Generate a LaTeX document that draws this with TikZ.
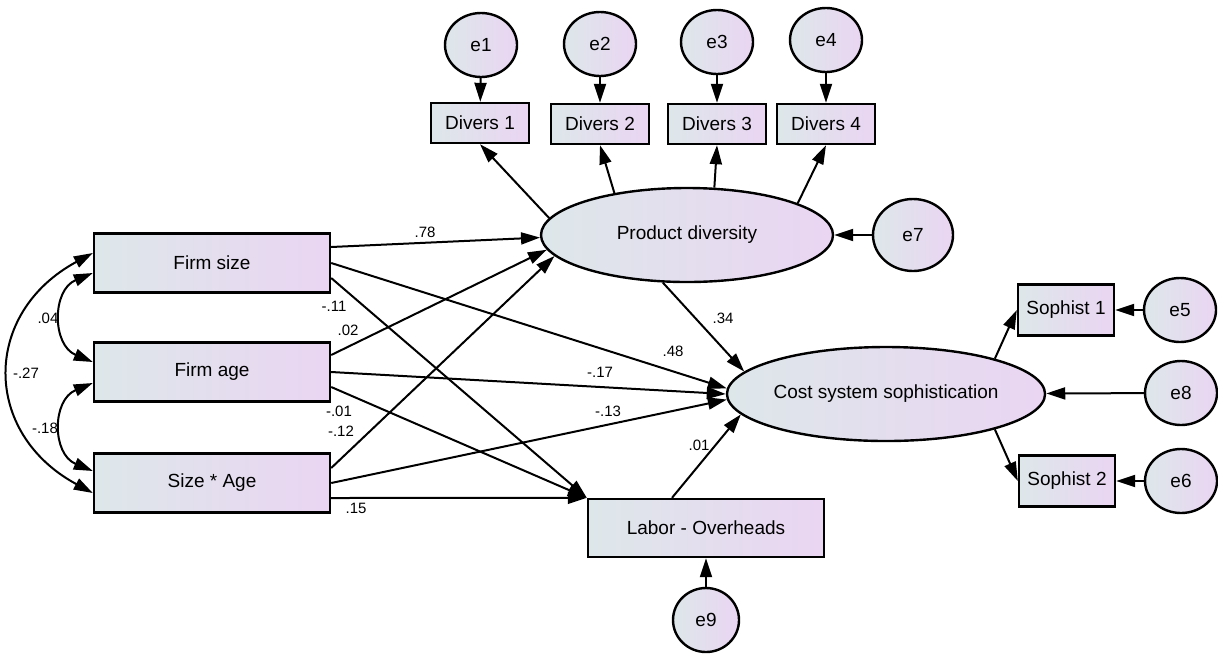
\documentclass[tikz,border=0pt]{standalone}
\usepackage{fontspec}
\setmainfont{Liberation Sans}
\usepackage{tikz}
\usetikzlibrary{
    arrows.meta,
    shapes.geometric
}
\definecolor{semleft}{RGB}{221,231,234}
\definecolor{semright}{RGB}{234,213,242}

\begin{document}
\begin{tikzpicture}[x=0.5pt,y=-0.5pt,
    obs/.style={draw,line width=1.2pt,rectangle,inner sep=0pt,
        left color=semleft,right color=semright,font=\fontsize{9.5}{11}\selectfont},
    lat/.style={draw,line width=1.2pt,ellipse,inner sep=0pt,
        left color=semleft,right color=semright,font=\fontsize{9.5}{11}\selectfont},
    err/.style={lat,minimum width=36pt,minimum height=32pt},
    path/.style={-{Triangle[length=9.5pt,width=6pt]},line width=1pt},
    cov/.style={{Triangle[length=9.5pt,width=6pt]}-{Triangle[length=9.5pt,width=6pt]},line width=1pt},
    coef/.style={inner sep=0pt,font=\fontsize{7.5}{9}\selectfont}
]
\useasboundingbox (0,0) rectangle (1218,654);

% Exogenous variables
\node[obs,minimum width=118pt,minimum height=29.5pt] (fs) at (212,263) {Firm size};
\node[obs,minimum width=118pt,minimum height=29.5pt] (fa) at (212,372) {Firm age};
\node[obs,minimum width=118pt,minimum height=29.5pt] (sa) at (212,483) {Size * Age};

% Latent variables
\node[lat,minimum width=146pt,minimum height=47pt] (pd) at (687,235) {Product diversity};
\node[lat,minimum width=141pt,minimum height=47pt] (cs) at (886,394) {Cost system sophistication};

% Mediator
\node[obs,minimum width=118pt,minimum height=29pt] (lab) at (706,528) {Labor - Overheads};

% Indicators
\node[obs,minimum width=49pt,minimum height=20pt] (d1) at (480,123) {Divers 1};
\node[obs,minimum width=49pt,minimum height=20pt] (d2) at (600,124) {Divers 2};
\node[obs,minimum width=49pt,minimum height=20pt] (d3) at (717,124) {Divers 3};
\node[obs,minimum width=49pt,minimum height=20pt] (d4) at (826,124) {Divers 4};
\node[obs,minimum width=48pt,minimum height=25.5pt] (s1) at (1066,310) {Sophist 1};
\node[obs,minimum width=48pt,minimum height=25.5pt] (s2) at (1067,481) {Sophist 2};

% Error terms
\node[err] (e1) at (481,45) {e1};
\node[err] (e2) at (600,44) {e2};
\node[err] (e3) at (717,42) {e3};
\node[err] (e4) at (826,40) {e4};
\node[err] (e5) at (1180,310) {e5};
\node[err] (e6) at (1181,481) {e6};
\node[err,minimum width=40pt,minimum height=36pt] (e7) at (913,235) {e7};
\node[err] (e8) at (1181,393) {e8};
\node[err,minimum width=33pt,minimum height=32pt] (e9) at (706,620) {e9};

% Covariances
\draw[cov] ([yshift=5pt]fs.west) .. controls +(-111,60) and +(-111,-60) .. ([yshift=-5pt]sa.west);
\draw[cov] ([yshift=-5pt]fs.west) .. controls +(-41,17) and +(-41,-17) .. ([yshift=5pt]fa.west);
\draw[cov] ([yshift=-5.5pt]fa.west) .. controls +(-41,17) and +(-41,-17) .. ([yshift=6pt]sa.west);
\node[coef] (c04) at (48,318) {.04};
\node[coef] (c27) at (26,373) {-.27};
\node[coef] (c18) at (45,428) {-.18};

% Structural paths
\draw[path] ([yshift=8pt]fs.east) -- (pd.181);
\draw[path] (fs.east) -- (cs.178);
\draw[path] ([yshift=-7.5pt]fs.east) -- (lab.north west);
\draw[path] ([yshift=8.5pt]fa.east) -- (pd.186);
\draw[path] (fa.east) -- (cs.180);
\draw[path] ([yshift=-7.5pt]fa.east) -- (lab.north west);
\draw[path] ([yshift=7.5pt]sa.east) -- (pd.189);
\draw[path] (sa.east) -- (cs.182);
\draw[path] ([yshift=-7.5pt]sa.east) -- (lab.north west);
\draw[path] (pd.243) -- (cs.171);
\draw[path] ([xshift=-17pt]lab.north) -- (cs.188);

% Measurement paths
\draw[path] (pd.173) -- (d1.south);
\draw[path] (pd.150) -- (d2.south);
\draw[path] (pd.60) -- (d3.south);
\draw[path] (pd.16) -- (d4.south);
\draw[path] (cs.18) -- (s1.west);
\draw[path] (cs.342) -- (s2.west);

% Residual paths
\draw[path] (e1) -- (d1);
\draw[path] (e2) -- (d2);
\draw[path] (e3) -- (d3);
\draw[path] (e4) -- (d4);
\draw[path] (e5) -- (s1);
\draw[path] (e6) -- (s2);
\draw[path] (e7) -- (pd);
\draw[path] (e8) -- (cs);
\draw[path] (e9) -- (lab);

% Coefficients
\node[coef] (c78) at (425,232) {.78};
\node[coef] (c11) at (334,306) {-.11};
\node[coef] (c02) at (348,330) {.02};
\node[coef] (c01) at (339,411) {-.01};
\node[coef] (c12) at (341,431) {-.12};
\node[coef] (c15) at (356,508) {.15};
\node[coef] (c48) at (673,351) {.48};
\node[coef] (c17) at (600,372) {-.17};
\node[coef] (c13) at (608,411) {-.13};
\node[coef] (c01b) at (699,445) {.01};
\node[coef] (c34) at (723,318) {.34};

\end{tikzpicture}
\end{document}
